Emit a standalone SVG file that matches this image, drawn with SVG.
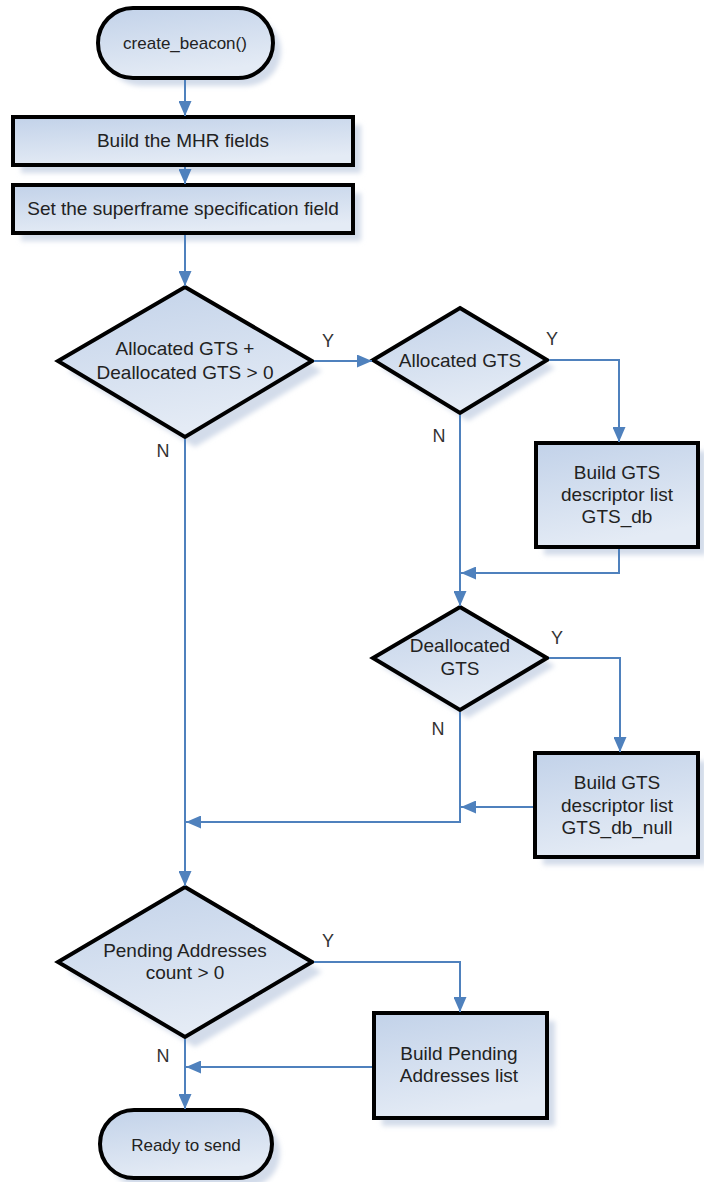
<svg xmlns="http://www.w3.org/2000/svg" width="704" height="1182" viewBox="0 0 704 1182">
  <defs>
    <linearGradient id="fill" x1="0" y1="0" x2="0.3" y2="1">
      <stop offset="0" stop-color="#c2d2e9"/>
      <stop offset="1" stop-color="#e4ebf5"/>
    </linearGradient>
    <filter id="soft" x="-20%" y="-20%" width="140%" height="140%">
      <feGaussianBlur stdDeviation="2.5"/>
    </filter>
    <marker id="arrow" viewBox="0 0 15 13" refX="15" refY="6.5" markerWidth="15" markerHeight="13" orient="auto" markerUnits="userSpaceOnUse">
      <path d="M0,0 L15,6.5 L0,13 z" fill="#4f81bd"/>
    </marker>
    <style>
      .shape { fill: url(#fill); stroke: #000; stroke-width: 4; stroke-linejoin: miter; }
      .shadow { fill: #d3dcea; filter: url(#soft); }
      .conn { fill: none; stroke: #4f81bd; stroke-width: 2; marker-end: url(#arrow); }
      .seg { fill: none; stroke: #4f81bd; stroke-width: 2; }
      text { font-family: "Liberation Sans", Arial, sans-serif; fill: #222; text-anchor: middle; }
      .lbl { font-size: 19px; }
      .term { font-size: 17px; }
      .yn { font-size: 18px; fill: #333; }
    </style>
  </defs>

  <rect width="704" height="1182" fill="#fff"/>

  <!-- start terminator -->
  <g id="start">
    <rect class="shadow" x="106" y="16" width="175" height="70" rx="35"/>
    <rect class="shape" x="98" y="8" width="175" height="70" rx="35"/>
    <text class="term" x="185" y="49">create_beacon()</text>
  </g>

  <g id="build-mhr">
    <rect class="shadow" x="21" y="125" width="340" height="48"/>
    <rect class="shape" x="13" y="117" width="340" height="48"/>
    <text class="lbl" x="183" y="147">Build the MHR fields</text>
  </g>

  <g id="set-superframe">
    <rect class="shadow" x="21" y="193" width="340" height="48"/>
    <rect class="shape" x="13" y="185" width="340" height="48"/>
    <text class="lbl" x="183" y="215">Set the superframe specification field</text>
  </g>

  <g id="gts-total">
    <polygon class="shadow" points="195,297 322,371 195,447 68,371"/>
    <polygon class="shape" points="185,287 312,361 185,437 58,361"/>
    <text class="lbl" x="185" y="355">Allocated GTS +</text>
    <text class="lbl" x="185" y="379">Deallocated GTS &gt; 0</text>
  </g>

  <g id="allocated">
    <polygon class="shadow" points="468,316 555,368 468,421 381,368"/>
    <polygon class="shape" points="460,308 547,360 460,413 373,360"/>
    <text class="lbl" x="460" y="367">Allocated GTS</text>
  </g>

  <g id="build-gts-db">
    <rect class="shadow" x="544" y="451" width="162" height="104"/>
    <rect class="shape" x="536" y="443" width="162" height="104"/>
    <text class="lbl" x="617" y="479">Build GTS</text>
    <text class="lbl" x="617" y="501">descriptor list</text>
    <text class="lbl" x="617" y="523">GTS_db</text>
  </g>

  <g id="deallocated">
    <polygon class="shadow" points="468,615 555,666 468,718 381,666"/>
    <polygon class="shape" points="460,607 547,658 460,710 373,658"/>
    <text class="lbl" x="460" y="652">Deallocated</text>
    <text class="lbl" x="460" y="675">GTS</text>
  </g>

  <g id="build-gts-db-null">
    <rect class="shadow" x="543" y="761" width="163" height="104"/>
    <rect class="shape" x="535" y="753" width="163" height="104"/>
    <text class="lbl" x="617" y="789">Build GTS</text>
    <text class="lbl" x="617" y="812">descriptor list</text>
    <text class="lbl" x="617" y="834">GTS_db_null</text>
  </g>

  <g id="pending-count">
    <polygon class="shadow" points="195,897 322,972 195,1047 68,972"/>
    <polygon class="shape" points="185,887 312,962 185,1037 58,962"/>
    <text class="lbl" x="185" y="957">Pending Addresses</text>
    <text class="lbl" x="185" y="979">count &gt; 0</text>
  </g>

  <g id="build-pending">
    <rect class="shadow" x="382" y="1021" width="173" height="105"/>
    <rect class="shape" x="374" y="1013" width="173" height="105"/>
    <text class="lbl" x="459" y="1060">Build Pending</text>
    <text class="lbl" x="459" y="1082">Addresses list</text>
  </g>

  <g id="ready">
    <rect class="shadow" x="108" y="1118" width="172" height="70" rx="35"/>
    <rect class="shape" x="100" y="1110" width="172" height="68" rx="34"/>
    <text class="term" x="186" y="1151">Ready to send</text>
  </g>

  <!-- connectors -->
  <g id="connectors">
    <path class="conn" d="M185,80 V116"/>
    <path class="conn" d="M185,167 V184"/>
    <path class="conn" d="M185,235 V286"/>
    <path class="conn" d="M314,361 H372"/>
    <path class="conn" d="M549,360 H619 V442"/>
    <path class="conn" d="M460,415 V606"/>
    <path class="conn" d="M619,549 V573 H461"/>
    <path class="conn" d="M549,658 H620 V752"/>
    <path class="conn" d="M460,712 V822 H186"/>
    <path class="conn" d="M533,807 H461"/>
    <path class="conn" d="M185,439 V886"/>
    <path class="conn" d="M314,962 H460 V1012"/>
    <path class="conn" d="M372,1067 H186"/>
    <path class="conn" d="M185,1039 V1109"/>
  </g>

  <g id="branch-labels">
    <text class="yn" x="328" y="347">Y</text>
    <text class="yn" x="163" y="457">N</text>
    <text class="yn" x="552" y="345">Y</text>
    <text class="yn" x="439" y="442">N</text>
    <text class="yn" x="557" y="644">Y</text>
    <text class="yn" x="438" y="735">N</text>
    <text class="yn" x="328" y="947">Y</text>
    <text class="yn" x="163" y="1062">N</text>
  </g>
</svg>
